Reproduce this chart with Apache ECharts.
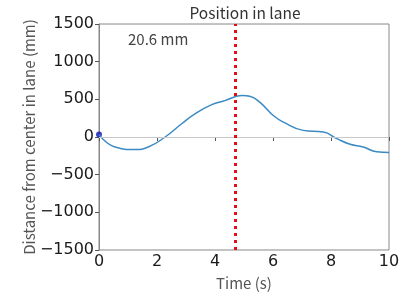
<!DOCTYPE html>
<html>
<head>
<meta charset="utf-8">
<script src="https://cdn.jsdelivr.net/npm/echarts@6/dist/echarts.min.js"></script>
<style>
  html, body { margin: 0; padding: 0; background: #fff; }
  #chart { width: 405px; height: 296px; }
</style>
</head>
<body>
<div id="chart"></div>
<script>
// lateral position in lane
const times = [0, 0.55, 1.24, 1.7, 2.28, 2.85, 3.31, 3.89, 4.34, 4.69, 4.95, 5.2, 5.55, 6.01, 6.36, 7.04, 7.74, 8.2, 8.66, 9.11, 9.58, 10];
const positions = [32, -132, -166, -132, 0, 176, 308, 430, 483, 535, 552, 540, 460, 285, 197, 88, 66, -21, -96, -132, -197, -205];
const currentTime = 4.69;
const currentLabel = '20.6 mm';

const tickFont = 'DejaVu Sans';
const textFont = 'Noto Sans CJK JP';
const chart = echarts.init(document.getElementById('chart'));

const lineData = times.map((t, i) => [t, positions[i]]);

const option = {
  animation: false,
  title: {
    text: 'Position in lane',
    left: 240, top: 0, textAlign: 'center',
    textStyle: { fontFamily: textFont, fontSize: 15.5, fontWeight: 'normal', color: '#333' }
  },
  grid: { left: 99, right: 16, top: 24, bottom: 46, show: true, borderColor: '#888', borderWidth: 1 },
  xAxis: {
    type: 'value', min: 0, max: 10, interval: 2,
    name: 'Time (s)', nameLocation: 'middle', nameGap: 26, nameMoveOverlap: false,
    nameTextStyle: { fontFamily: textFont, fontSize: 15, color: '#555' },
    axisLine: { show: true, lineStyle: { color: '#888' } },
    axisTick: { show: true, length: 4, lineStyle: { color: '#555' } },
    axisLabel: { fontFamily: tickFont, fontSize: 16, color: '#1a1a1a', margin: 4 },
    splitLine: { show: false }
  },
  yAxis: {
    type: 'value', min: -1500, max: 1500, interval: 500,
    name: 'Distance from center in lane (mm)', nameLocation: 'middle', nameGap: 62, nameMoveOverlap: false,
    nameTextStyle: { fontFamily: textFont, fontSize: 15, color: '#555' },
    axisLine: { show: true, lineStyle: { color: '#888' } },
    axisTick: { show: true, length: 4, lineStyle: { color: '#555' } },
    axisLabel: {
      fontFamily: tickFont, fontSize: 16, color: '#1a1a1a', margin: 5,
      formatter: v => (v < 0 ? '\u2212' + Math.abs(v) : String(v))
    },
    splitLine: { show: false }
  },
  graphic: [{
    type: 'text', left: 128, top: 32,
    style: { text: currentLabel, font: '15px Noto Sans CJK JP', fill: '#444' }
  }],
  series: [
    {
      type: 'line', data: lineData, smooth: 0.5,
      showSymbol: false,
      lineStyle: { color: '#3b8ac4', width: 1.5 },
      markLine: {
        silent: true, symbol: 'none', label: { show: false },
        data: [
          { yAxis: 0, lineStyle: { color: '#c8c8c8', width: 1, type: 'solid' } },
          { xAxis: currentTime, lineStyle: { color: '#e0101a', width: 3, type: [3, 4] } }
        ]
      }
    },
    {
      type: 'scatter', data: [lineData[0]], symbolSize: 6,
      itemStyle: { color: '#0a14b4' }
    }
  ]
};
chart.setOption(option);
</script>
</body>
</html>
